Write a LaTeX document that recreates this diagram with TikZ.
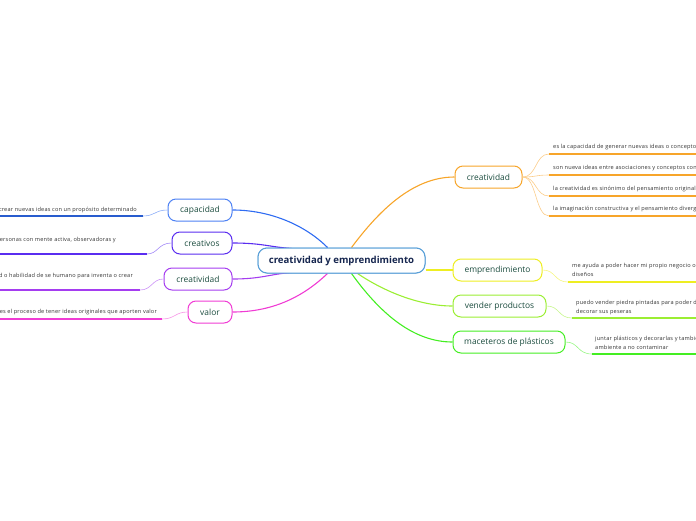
\documentclass[tikz,border=0pt]{standalone}
\usepackage{fontspec}
\setmainfont{Open Sans}
\newfontfamily\smallfam[LetterSpace=3.5]{Open Sans}
\usetikzlibrary{calc}
\definecolor{cblue}{HTML}{2F6CF2}
\definecolor{cind}{HTML}{5A2DF0}
\definecolor{cpur}{HTML}{A53DF0}
\definecolor{cmag}{HTML}{F03CD4}
\definecolor{corg}{HTML}{F7A52A}
\definecolor{cyel}{HTML}{EEEE22}
\definecolor{clim}{HTML}{9BEE33}
\definecolor{cgrn}{HTML}{44EE22}
\definecolor{ccen}{HTML}{5AA0D8}
\definecolor{ntext}{HTML}{1B4C3E}
\definecolor{ctext}{HTML}{16264F}
\definecolor{stext}{HTML}{333333}
\tikzset{
  topic/.style={draw=#1, line width=1pt, rounded corners=8pt, fill=white,
    minimum height=22pt, inner sep=0pt, text=ntext, font=\fontsize{8.4}{10}\selectfont},
  central/.style={draw=ccen, line width=1pt, rounded corners=9pt, fill=white,
    minimum height=25pt, minimum width=167pt, inner sep=0pt, text=ctext,
    font=\fontsize{9.6}{11}\selectfont\bfseries},
  mainedge/.style={draw=#1, line width=1.1pt},
  subedge/.style={draw=#1!55, line width=0.6pt},
  uline/.style={draw=#1, line width=2pt},
  small/.style={inner sep=0pt, text=stext, font=\smallfam\fontsize{5.6}{8.6}\selectfont, align=left},
}
\begin{document}
\begin{tikzpicture}[x=1pt,y=-1pt]
\useasboundingbox (0,0) rectangle (696,520);
\clip (0,0) rectangle (696,520);
% central
\node[central] (c) at (341.5,260.5) {creatividad y emprendimiento};
% left topics
\node[topic=cblue!85, minimum width=64pt] (cap) at (200,210) {capacidad};
\node[topic=cind, minimum width=60pt] (cre) at (202,243) {creativos};
\node[topic=cpur, minimum width=68pt] (crl) at (198,279) {creatividad};
\node[topic=cmag, minimum width=44pt] (val) at (210,312) {valor};
% right topics
\node[topic=corg, minimum width=67pt] (crr) at (488.5,177) {creatividad};
\node[topic=cyel, minimum width=89pt] (emp) at (497.5,270) {emprendimiento};
\node[topic=clim, minimum width=93pt] (ven) at (499.5,306) {vender productos};
\node[topic=cgrn, minimum width=112pt] (mac) at (509,342) {maceteros de plásticos};
% main edges
\path[mainedge=cblue] ($(c.north)+(-14,0)$) .. controls (305,225) and (270,210) .. (cap.east);
\path[mainedge=cind] ($(c.north)+(-50,1)$) .. controls (270,247) and (262,243) .. (cre.east);
\path[mainedge=cpur] ($(c.south)+(-50,-1)$) .. controls (270,274) and (262,279) .. (crl.east);
\path[mainedge=cmag] ($(c.south)+(-14,0)$) .. controls (305,295) and (275,312) .. (val.east);
\path[mainedge=corg] ($(c.north)+(10,0)$) .. controls (378,212) and (412,177) .. (crr.west);
\path[mainedge=cyel] (c.east |- emp.west) -- (emp.west);
\path[mainedge=clim] ($(c.south)+(16,0)$) .. controls (385,292) and (420,306) .. (ven.west);
\path[mainedge=cgrn] ($(c.south)+(10,0)$) .. controls (382,316) and (415,342) .. (mac.west);
% redraw central above edges
\node[central] at (c) {creatividad y emprendimiento};
% left children
\coordinate (capu) at (143,216);
\coordinate (creu) at (147,254);
\coordinate (crlu) at (140,290);
\coordinate (valu) at (162,319);
\path[subedge=cblue] (cap.west) .. controls (155,210) and (155,216) .. (capu);
\path[uline=cblue!85!black] (capu) -- (-5,216);
\path[subedge=cind] (cre.west) .. controls (158,243) and (158,254) .. (creu);
\path[uline=cind] (creu) -- (-5,254);
\path[subedge=cpur] (crl.west) .. controls (152,279) and (152,290) .. (crlu);
\path[uline=cpur] (crlu) -- (-5,290);
\path[subedge=cmag] (val.west) .. controls (175,312) and (175,319) .. (valu);
\path[uline=cmag] (valu) -- (-5,319);
\node[small, anchor=base east] (tcap) at (137,211) {crear nuevas ideas con un propósito determinado};
\node[small, anchor=base east] (tcre) at (116,241) {personas con mente activa, observadoras y};
\node[small, anchor=base east] (tcrl) at (133,277) {capacidad o habilidad de se humano para inventa o crear};
\node[small, anchor=base east] (tval) at (157,313) {es el proceso de tener ideas originales que aporten valor};
% right children of creatividad
\foreach \y/\n in {154/a,175/b,196/c,216/d}{
  \coordinate (cr\n) at (549,\y);
  \path[subedge=corg] (crr.east) .. controls (537,177) and (535,\y) .. (cr\n);
  \path[uline=corg] (cr\n) -- (700,\y);
}
\node[small, anchor=base west] (t1) at (553,148) {es la capacidad de generar nuevas ideas o conceptos};
\node[small, anchor=base west] (t2) at (553,169.5) {son nueva ideas entre asociaciones y conceptos conocidos};
\node[small, anchor=base west] (t3) at (553,190) {la creatividad es sinónimo del pensamiento original};
\node[small, anchor=base west] (t4) at (553,210.5) {la imaginación constructiva y el pensamiento divergente};
% other right children
\coordinate (empu) at (568,282);
\coordinate (venu) at (572,318);
\coordinate (macu) at (592,354);
\path[subedge=cyel] (emp.east) .. controls (556,270) and (554,282) .. (empu);
\path[uline=cyel] (empu) -- (700,282);
\path[subedge=clim] (ven.east) .. controls (560,306) and (558,318) .. (venu);
\path[uline=clim] (venu) -- (700,318);
\path[subedge=cgrn] (mac.east) .. controls (579,342) and (577,354) .. (macu);
\path[uline=cgrn] (macu) -- (700,354);
\node[small, anchor=base west] (t5) at (572,276.5) {me ayuda a poder hacer mi propio negocio o\\diseños};
\node[small, anchor=base west] (t6) at (576,313) {puedo vender piedra pintadas para poder decorar\\decorar sus peseras};
\node[small, anchor=base west] (t7) at (595,349) {juntar plásticos y decorarlas y también ayudar al medio\\ambiente a no contaminar};
\end{tikzpicture}
\end{document}
